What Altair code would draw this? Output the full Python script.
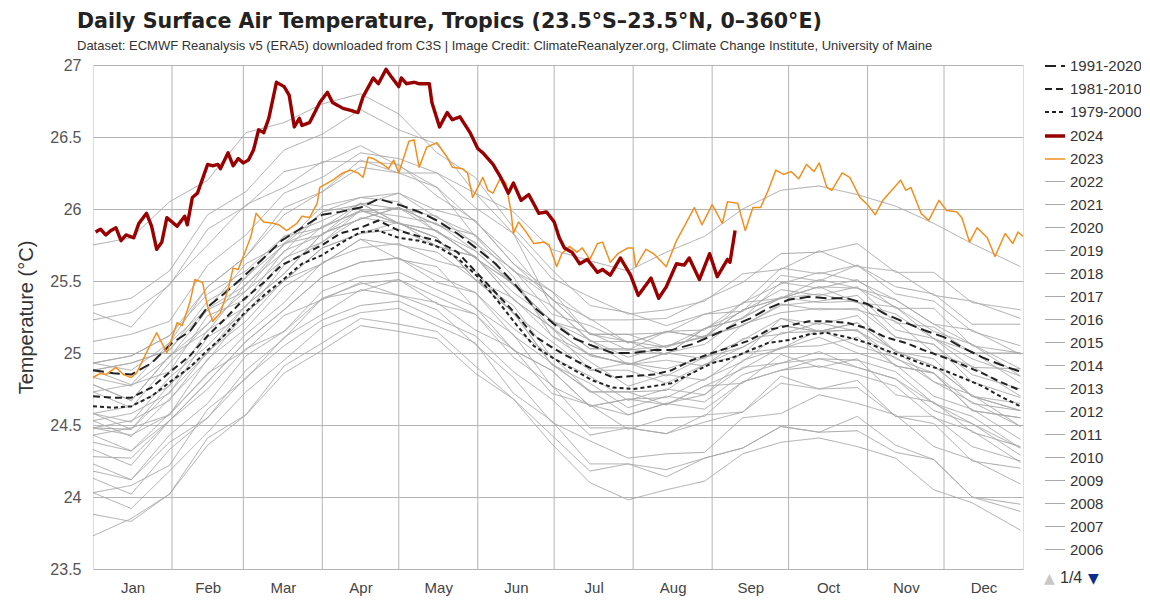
import altair as alt
import pandas as pd

TITLE = "Daily Surface Air Temperature, Tropics (23.5°S–23.5°N, 0–360°E)"
SUBTITLE = ("Dataset: ECMWF Reanalysis v5 (ERA5) downloaded from C3S | Image Credit: "
            "ClimateReanalyzer.org, Climate Change Institute, University of Maine")
MONTHS = ["Jan", "Feb", "Mar", "Apr", "May", "Jun", "Jul", "Aug", "Sep", "Oct", "Nov", "Dec"]
MONTH_STARTS = [31, 59, 90, 120, 151, 181, 212, 243, 273, 304, 334]
MONTH_MIDS = [15.5, 45, 74.5, 105, 135.5, 166, 196.5, 227.5, 258, 288.5, 319, 349.5]
Y_TICKS = [23.5, 24, 24.5, 25, 25.5, 26, 26.5, 27]

# climatologies
CLIM_DAYS = [0, 8, 15, 23, 31, 38, 45, 52, 59, 67, 74, 82, 90, 97, 105, 112, 120, 128, 135, 143,
             151, 158, 166, 173, 181, 189, 196, 204, 212, 220, 227, 235, 243, 250, 258, 265, 273,
             281, 288, 296, 304, 311, 319, 326, 334, 341, 349, 356, 364]
CLIM_1991_2020 = [24.88, 24.86, 24.85, 24.93, 25.07, 25.15, 25.32, 25.42, 25.53, 25.66, 25.78, 25.87,
                  25.96, 25.98, 26.01, 26.07, 26.03, 25.98, 25.92, 25.83, 25.72, 25.62, 25.47, 25.32,
                  25.20, 25.10, 25.05, 25.00, 25.00, 25.02, 25.02, 25.06, 25.12, 25.18, 25.24, 25.31,
                  25.37, 25.39, 25.38, 25.38, 25.34, 25.27, 25.21, 25.16, 25.11, 25.04, 24.97, 24.92, 24.87]
CLIM_1981_2010 = [24.70, 24.69, 24.69, 24.76, 24.88, 24.98, 25.12, 25.24, 25.37, 25.49, 25.61, 25.68,
                  25.75, 25.83, 25.87, 25.92, 25.85, 25.81, 25.78, 25.70, 25.55, 25.42, 25.27, 25.12,
                  25.03, 24.95, 24.89, 24.83, 24.84, 24.85, 24.88, 24.95, 25.00, 25.04, 25.09, 25.16,
                  25.19, 25.22, 25.22, 25.21, 25.17, 25.11, 25.07, 25.02, 24.97, 24.92, 24.86, 24.80, 24.74]
CLIM_1979_2000 = [24.63, 24.62, 24.63, 24.70, 24.81, 24.90, 25.02, 25.13, 25.27, 25.40, 25.50, 25.62,
                  25.68, 25.76, 25.84, 25.85, 25.80, 25.78, 25.74, 25.66, 25.53, 25.38, 25.20, 25.05,
                  24.96, 24.88, 24.81, 24.76, 24.75, 24.77, 24.79, 24.86, 24.93, 24.96, 25.02, 25.07,
                  25.09, 25.13, 25.14, 25.11, 25.07, 25.02, 24.97, 24.92, 24.88, 24.83, 24.77, 24.70, 24.63]

Y2024_DAYS = [1, 3, 5, 7, 9, 11, 13, 16, 18, 21, 23, 25, 27, 29, 33, 36, 37, 39, 41, 45, 47, 49, 50, 53,
              55, 57, 59, 61, 63, 65, 67, 69, 72, 75, 77, 79, 81, 82, 85, 89, 92, 94, 98, 104, 106, 110,
              112, 115, 117, 120, 121, 123, 126, 128, 132, 133, 136, 139, 141, 144, 148, 151, 153, 157,
              160, 163, 165, 168, 171, 175, 178, 181, 183, 185, 188, 191, 194, 198, 200, 203, 207, 211,
              214, 219, 222, 225, 229, 232, 234, 238, 242, 245, 249, 250, 252]
Y2024_TEMPS = [25.84, 25.86, 25.82, 25.85, 25.87, 25.78, 25.82, 25.80, 25.90, 25.97, 25.88, 25.72, 25.77,
               25.94, 25.88, 25.95, 25.89, 26.08, 26.11, 26.31, 26.30, 26.31, 26.28, 26.39, 26.30, 26.35,
               26.32, 26.34, 26.41, 26.55, 26.53, 26.63, 26.88, 26.85, 26.79, 26.57, 26.63, 26.58, 26.60,
               26.74, 26.81, 26.74, 26.70, 26.67, 26.78, 26.91, 26.87, 26.97, 26.92, 26.85, 26.91, 26.87,
               26.88, 26.87, 26.87, 26.74, 26.57, 26.67, 26.62, 26.64, 26.53, 26.42, 26.39, 26.31, 26.22,
               26.11, 26.18, 26.06, 26.10, 25.97, 25.98, 25.91, 25.80, 25.73, 25.70, 25.62, 25.65, 25.56,
               25.58, 25.54, 25.66, 25.54, 25.40, 25.52, 25.38, 25.46, 25.62, 25.61, 25.66, 25.51, 25.69,
               25.53, 25.65, 25.63, 25.85]

Y2023_DAYS = [0, 3, 5, 9, 12, 15, 17, 19, 22, 25, 27, 29, 33, 35, 38, 40, 43, 45, 47, 50, 53, 55, 57,
              59, 62, 64, 67, 71, 73, 76, 80, 82, 85, 88, 89, 94, 98, 101, 104, 106, 108, 110, 113, 116,
              118, 120, 124, 126, 128, 131, 135, 139, 141, 145, 147, 149, 151, 153, 155, 157, 160, 162,
              164, 165, 167, 170, 173, 177, 179, 182, 184, 187, 190, 192, 195, 198, 200, 203, 206, 210,
              212, 213, 217, 220, 225, 229, 233, 236, 239, 243, 247, 249, 253, 256, 259, 262, 265, 268,
              271, 274, 277, 280, 283, 285, 288, 290, 294, 297, 301, 304, 307, 310, 313, 317, 319, 321,
              325, 328, 332, 335, 339, 341, 344, 347, 351, 354, 358, 361, 363, 365]
Y2023_TEMPS = [24.83, 24.86, 24.85, 24.90, 24.85, 24.83, 24.86, 24.93, 25.04, 25.14, 25.07, 25.00, 25.21,
               25.19, 25.35, 25.51, 25.49, 25.32, 25.22, 25.28, 25.44, 25.59, 25.58, 25.67, 25.81, 25.97,
               25.91, 25.90, 25.89, 25.85, 25.90, 25.95, 25.94, 26.04, 26.15, 26.20, 26.25, 26.27, 26.25,
               26.22, 26.36, 26.35, 26.32, 26.28, 26.34, 26.25, 26.47, 26.48, 26.29, 26.43, 26.46, 26.36,
               26.29, 26.28, 26.25, 26.08, 26.15, 26.22, 26.13, 26.11, 26.22, 26.18, 25.99, 25.83, 25.91,
               25.84, 25.76, 25.77, 25.75, 25.60, 25.69, 25.74, 25.70, 25.73, 25.65, 25.76, 25.77, 25.63,
               25.69, 25.73, 25.73, 25.60, 25.72, 25.69, 25.60, 25.78, 25.91, 26.01, 25.89, 26.03, 25.90,
               26.05, 26.04, 25.85, 26.01, 26.01, 26.13, 26.27, 26.24, 26.26, 26.21, 26.31, 26.26, 26.32,
               26.15, 26.13, 26.25, 26.22, 26.08, 26.03, 25.96, 26.06, 26.12, 26.20, 26.13, 26.15, 25.97,
               25.92, 26.06, 25.99, 25.98, 25.94, 25.77, 25.87, 25.80, 25.67, 25.83, 25.76, 25.84, 25.81]

GRAY_DAYS = [0, 15, 30, 45, 60, 75, 90, 105, 120, 135, 150, 165, 180, 195, 210, 225, 240, 255, 270,
             285, 300, 315, 330, 345, 364]
G2022 = [24.88, 24.78, 25.07, 25.31, 25.62, 25.76, 26.02, 26.08, 26.05, 25.84, 25.71, 25.47, 25.22, 25.03, 25.02, 25.05, 25.11, 25.19, 25.33, 25.36, 25.40, 25.16, 25.10, 24.90, 24.89]
G2021 = [24.83, 24.77, 24.97, 25.30, 25.43, 25.76, 25.82, 26.04, 26.00, 25.95, 25.76, 25.58, 25.27, 25.19, 25.07, 25.15, 25.11, 25.35, 25.38, 25.46, 25.35, 25.27, 25.10, 24.96, 24.84]
G2020 = [25.28, 25.18, 25.48, 25.75, 26.03, 26.15, 26.33, 26.33, 26.31, 26.09, 25.92, 25.62, 25.38, 25.13, 25.08, 25.04, 25.12, 25.19, 25.34, 25.30, 25.31, 25.11, 25.06, 24.85, 24.75]
G2019 = [25.08, 25.13, 25.22, 25.61, 25.82, 26.11, 26.22, 26.39, 26.35, 26.25, 26.01, 25.83, 25.52, 25.39, 25.27, 25.30, 25.36, 25.55, 25.58, 25.71, 25.60, 25.57, 25.40, 25.36, 25.24]
G2018 = [24.73, 24.62, 24.93, 25.20, 25.53, 25.75, 25.98, 26.03, 26.11, 25.94, 25.82, 25.57, 25.38, 25.13, 25.13, 25.14, 25.27, 25.34, 25.59, 25.55, 25.61, 25.41, 25.36, 25.15, 25.05]
G2017 = [24.93, 24.88, 25.07, 25.46, 25.67, 26.01, 26.12, 26.34, 26.25, 26.15, 25.91, 25.68, 25.37, 25.24, 25.07, 25.15, 25.11, 25.30, 25.38, 25.41, 25.35, 25.32, 25.10, 25.01, 24.79]
G2016 = [25.75, 25.80, 26.05, 26.20, 26.53, 26.60, 26.73, 26.80, 26.66, 26.39, 26.22, 25.87, 25.58, 25.33, 25.28, 25.19, 25.27, 25.29, 25.44, 25.40, 25.46, 25.21, 25.18, 25.00, 25.00]
G2015 = [24.93, 24.98, 25.12, 25.46, 25.67, 25.96, 26.12, 26.29, 26.25, 26.25, 26.11, 25.98, 25.72, 25.64, 25.57, 25.70, 25.81, 26.00, 26.13, 26.16, 26.10, 26.02, 25.90, 25.76, 25.60]
G2014 = [24.78, 24.67, 24.98, 25.15, 25.48, 25.70, 25.98, 26.08, 26.11, 25.99, 25.92, 25.62, 25.43, 25.13, 25.13, 25.04, 25.17, 25.29, 25.54, 25.50, 25.61, 25.46, 25.41, 25.20, 25.20]
G2013 = [24.73, 24.78, 24.87, 25.26, 25.37, 25.71, 25.82, 25.99, 25.95, 25.90, 25.71, 25.48, 25.17, 24.99, 24.92, 25.00, 24.96, 25.20, 25.28, 25.31, 25.30, 25.22, 25.00, 24.91, 24.70]
G2012 = [24.58, 24.47, 24.78, 25.00, 25.33, 25.55, 25.83, 25.93, 26.01, 25.89, 25.77, 25.47, 25.33, 25.08, 25.08, 24.99, 25.17, 25.24, 25.39, 25.35, 25.36, 25.11, 25.06, 24.80, 24.69]
G2011 = [24.53, 24.42, 24.68, 24.95, 25.28, 25.50, 25.73, 25.83, 25.86, 25.74, 25.67, 25.37, 25.18, 24.98, 24.93, 24.89, 24.97, 25.04, 25.19, 25.15, 25.16, 24.91, 24.86, 24.60, 24.55]
G2010 = [25.23, 25.28, 25.47, 25.86, 26.02, 26.26, 26.32, 26.44, 26.30, 26.15, 25.81, 25.53, 25.12, 24.94, 24.77, 24.85, 24.81, 25.00, 25.03, 25.11, 25.00, 24.92, 24.70, 24.61, 24.40]
G2009 = [24.58, 24.52, 24.83, 25.05, 25.33, 25.55, 25.83, 25.93, 26.01, 25.89, 25.82, 25.57, 25.43, 25.23, 25.23, 25.24, 25.37, 25.49, 25.69, 25.70, 25.76, 25.56, 25.56, 25.35, 25.30]
G2008 = [24.43, 24.32, 24.58, 24.85, 25.13, 25.35, 25.63, 25.73, 25.76, 25.64, 25.57, 25.27, 25.08, 24.88, 24.88, 24.79, 24.92, 25.04, 25.19, 25.15, 25.16, 24.96, 24.86, 24.65, 24.60]
G2007 = [24.88, 24.93, 25.02, 25.31, 25.47, 25.76, 25.87, 25.99, 25.90, 25.80, 25.51, 25.33, 24.97, 24.84, 24.67, 24.75, 24.71, 24.90, 24.93, 25.01, 24.90, 24.82, 24.60, 24.51, 24.29]
G2006 = [24.48, 24.47, 24.73, 25.00, 25.28, 25.50, 25.73, 25.83, 25.91, 25.74, 25.67, 25.42, 25.23, 25.03, 25.03, 24.99, 25.17, 25.24, 25.49, 25.45, 25.51, 25.31, 25.31, 25.05, 25.00]
G2005 = [24.78, 24.67, 24.98, 25.20, 25.43, 25.65, 25.88, 25.98, 26.01, 25.84, 25.67, 25.37, 25.18, 24.88, 24.93, 24.84, 24.97, 25.09, 25.24, 25.15, 25.21, 25.01, 24.91, 24.70, 24.60]
G2002 = [24.53, 24.58, 24.72, 25.11, 25.27, 25.61, 25.77, 25.94, 25.90, 25.85, 25.66, 25.48, 25.22, 25.09, 24.97, 25.05, 25.11, 25.30, 25.38, 25.51, 25.45, 25.32, 25.15, 25.06, 24.84]
G1999 = [24.33, 24.22, 24.53, 24.80, 25.08, 25.30, 25.53, 25.63, 25.66, 25.54, 25.42, 25.17, 24.98, 24.73, 24.73, 24.64, 24.77, 24.79, 24.99, 24.90, 24.96, 24.71, 24.66, 24.45, 24.35]
G1998 = [25.33, 25.38, 25.57, 25.96, 26.12, 26.41, 26.52, 26.69, 26.55, 26.45, 26.11, 25.83, 25.32, 25.09, 24.92, 24.95, 24.91, 25.10, 25.13, 25.21, 25.15, 25.02, 24.80, 24.71, 24.49]
G1992 = [24.93, 24.98, 25.12, 25.41, 25.57, 25.81, 25.92, 26.04, 25.90, 25.80, 25.51, 25.28, 24.92, 24.79, 24.62, 24.70, 24.66, 24.85, 24.93, 24.96, 24.90, 24.82, 24.65, 24.51, 24.34]
G1989 = [24.18, 24.12, 24.43, 24.65, 24.98, 25.15, 25.43, 25.53, 25.56, 25.44, 25.32, 25.02, 24.88, 24.63, 24.68, 24.64, 24.77, 24.89, 25.04, 25.05, 25.11, 24.91, 24.86, 24.60, 24.55]
G1987 = [24.58, 24.63, 24.77, 25.16, 25.32, 25.66, 25.77, 25.99, 25.90, 25.85, 25.66, 25.48, 25.22, 25.14, 25.02, 25.15, 25.16, 25.35, 25.48, 25.56, 25.50, 25.37, 25.20, 25.06, 24.89]
G1983 = [24.88, 24.93, 25.02, 25.36, 25.52, 25.81, 25.87, 26.04, 25.90, 25.80, 25.51, 25.28, 24.92, 24.74, 24.57, 24.65, 24.61, 24.80, 24.88, 24.91, 24.85, 24.77, 24.55, 24.46, 24.24]
G1982 = [24.43, 24.48, 24.57, 24.96, 25.17, 25.46, 25.62, 25.79, 25.75, 25.70, 25.51, 25.38, 25.12, 24.99, 24.92, 25.00, 25.06, 25.25, 25.38, 25.46, 25.45, 25.37, 25.20, 25.16, 24.99]
G1976 = [24.03, 24.08, 24.22, 24.61, 24.82, 25.11, 25.27, 25.44, 25.40, 25.35, 25.16, 25.03, 24.72, 24.64, 24.57, 24.65, 24.71, 24.95, 25.03, 25.16, 25.05, 24.97, 24.80, 24.66, 24.49]
G1972 = [24.13, 24.02, 24.33, 24.55, 24.88, 25.10, 25.38, 25.48, 25.51, 25.39, 25.27, 25.02, 24.88, 24.63, 24.68, 24.69, 24.82, 24.94, 25.14, 25.15, 25.21, 25.01, 24.91, 24.70, 24.60]
G1969 = [24.48, 24.53, 24.67, 25.01, 25.22, 25.51, 25.62, 25.79, 25.65, 25.60, 25.31, 25.13, 24.77, 24.64, 24.47, 24.55, 24.56, 24.80, 24.88, 24.96, 24.95, 24.87, 24.65, 24.56, 24.34]
G1965 = [24.28, 24.27, 24.53, 24.80, 25.08, 25.30, 25.53, 25.63, 25.66, 25.49, 25.42, 25.12, 24.93, 24.73, 24.73, 24.74, 24.92, 24.99, 25.24, 25.20, 25.26, 25.01, 24.96, 24.70, 24.65]
G1961 = [24.38, 24.32, 24.53, 24.75, 25.03, 25.15, 25.38, 25.43, 25.51, 25.34, 25.27, 24.97, 24.78, 24.48, 24.48, 24.44, 24.57, 24.59, 24.79, 24.75, 24.76, 24.56, 24.56, 24.35, 24.25]
G1958 = [24.48, 24.43, 24.57, 24.86, 25.02, 25.26, 25.37, 25.49, 25.40, 25.30, 25.06, 24.83, 24.52, 24.39, 24.27, 24.30, 24.31, 24.55, 24.58, 24.71, 24.65, 24.57, 24.35, 24.26, 24.09]
G1955 = [24.03, 23.92, 24.18, 24.45, 24.73, 24.95, 25.18, 25.28, 25.31, 25.19, 25.07, 24.72, 24.53, 24.23, 24.23, 24.19, 24.27, 24.34, 24.49, 24.45, 24.46, 24.31, 24.26, 24.00, 23.95]
G1950 = [23.88, 23.83, 24.02, 24.36, 24.57, 24.86, 25.02, 25.19, 25.15, 25.10, 24.86, 24.68, 24.37, 24.10, 23.98, 24.05, 24.11, 24.30, 24.38, 24.41, 24.35, 24.27, 24.05, 23.96, 23.77]
G1949 = [23.73, 23.85, 24.02, 24.41, 24.57, 24.91, 25.07, 25.24, 25.20, 25.15, 24.91, 24.68, 24.43, 24.18, 24.23, 24.14, 24.27, 24.34, 24.49, 24.45, 24.56, 24.36, 24.26, 24.00, 23.90]
G1945 = [24.23, 24.12, 24.38, 24.55, 24.83, 25.05, 25.23, 25.33, 25.36, 25.24, 25.12, 24.87, 24.68, 24.43, 24.48, 24.44, 24.52, 24.59, 24.84, 24.75, 24.81, 24.56, 24.51, 24.25, 24.20]

GRAY_SERIES = [("2022", G2022), ("2021", G2021), ("2020", G2020), ("2019", G2019), ("2018", G2018),
               ("2017", G2017), ("2016", G2016), ("2015", G2015), ("2014", G2014), ("2013", G2013),
               ("2012", G2012), ("2011", G2011), ("2010", G2010), ("2009", G2009), ("2008", G2008),
               ("2007", G2007), ("2006", G2006), ("2005", G2005), ("2002", G2002), ("1999", G1999),
               ("1998", G1998), ("1992", G1992), ("1989", G1989), ("1987", G1987), ("1983", G1983),
               ("1982", G1982), ("1976", G1976), ("1972", G1972), ("1969", G1969), ("1965", G1965),
               ("1961", G1961), ("1958", G1958), ("1955", G1955), ("1950", G1950), ("1949", G1949),
               ("1945", G1945)]

FONT = "Liberation Sans"

# ---------- tables ----------
gray_rows = []
for name, vals in GRAY_SERIES:
    for d, v in zip(GRAY_DAYS, vals):
        gray_rows.append({"series": name, "day": d, "temp": v})
gray_df = pd.DataFrame(gray_rows)

clim_rows = []
for name, vals in [("1991-2020", CLIM_1991_2020), ("1981-2010", CLIM_1981_2010), ("1979-2000", CLIM_1979_2000)]:
    for d, v in zip(CLIM_DAYS, vals):
        clim_rows.append({"series": name, "day": d, "temp": v})
clim_df = pd.DataFrame(clim_rows)

df2023 = pd.DataFrame({"series": "2023", "day": Y2023_DAYS, "temp": Y2023_TEMPS})
df2024 = pd.DataFrame({"series": "2024", "day": Y2024_DAYS, "temp": Y2024_TEMPS})
grid_df = pd.DataFrame({"day": MONTH_STARTS})

SERIES_ORDER = ["1991-2020", "1981-2010", "1979-2000", "2024", "2023"] + [n for n, _ in GRAY_SERIES]
n_gray = len(GRAY_SERIES)
COLORS = ["#222222", "#222222", "#222222", "#990000", "#f18f1f"] + ["#a9a9a9"] * n_gray
DASHES = [[11, 5], [7, 4], [4, 3], [1, 0], [1, 0]] + [[1, 0]] * n_gray
WIDTHS = [2, 2, 2, 3.4, 1.5] + [1] * n_gray

legend = alt.Legend(
    title=None, orient="none", legendX=950, legendY=-10,
    values=SERIES_ORDER[:22], symbolType="stroke", symbolSize=400,
    labelFontSize=15, labelColor="#333333", labelFont=FONT, labelOffset=3,
    rowPadding=4, symbolStrokeWidth=2,
)

x_enc = alt.X("day:Q", scale=alt.Scale(domain=[0, 365], nice=False, zero=False),
              axis=alt.Axis(values=MONTH_MIDS, grid=False, ticks=False, domain=False, title=None,
                            labelExpr="%s[floor(datum.value / 30.5)]" % str(MONTHS),
                            labelFontSize=15, labelColor="#444444", labelFont=FONT, labelPadding=11))
y_enc = alt.Y("temp:Q", scale=alt.Scale(domain=[23.5, 27], nice=False, zero=False),
              axis=alt.Axis(values=Y_TICKS, format="~g", ticks=False, domain=False,
                            gridColor="#b4b4b4", gridWidth=1,
                            title="Temperature (°C)", titleFontSize=20, titleFontWeight="normal",
                            titleColor="#333333", titleFont=FONT, titlePadding=13,
                            labelFontSize=16, labelColor="#555555", labelFont=FONT, labelPadding=12))

color_enc = alt.Color("series:N", scale=alt.Scale(domain=SERIES_ORDER, range=COLORS), legend=legend)
dash_enc = alt.StrokeDash("series:N", scale=alt.Scale(domain=SERIES_ORDER, range=DASHES), legend=legend)
width_enc = alt.StrokeWidth("series:N", scale=alt.Scale(type="ordinal", domain=SERIES_ORDER, range=WIDTHS),
                            legend=legend)


def line_layer(data):
    return alt.Chart(data).mark_line(strokeJoin="round").encode(
        x=x_enc, y=y_enc, color=color_enc, strokeDash=dash_enc, strokeWidth=width_enc
    )


grid_layer = alt.Chart(grid_df).mark_rule(color="#b4b4b4", strokeWidth=1).encode(x=alt.X("day:Q"))

one = pd.DataFrame({"k": [0]})
up_arrow = alt.Chart(one).mark_text(text="▲", font="DejaVu Sans", fontSize=14, color="#c8c8c8",
                                    align="left", baseline="middle").encode(x=alt.value(951), y=alt.value(514))
page_txt = alt.Chart(one).mark_text(text="1/4", font=FONT, fontSize=16, color="#333333",
                                    align="left", baseline="middle").encode(x=alt.value(967), y=alt.value(513))
down_arrow = alt.Chart(one).mark_text(text="▼", font="DejaVu Sans", fontSize=14, color="#0b2f8a",
                                      align="left", baseline="middle").encode(x=alt.value(995), y=alt.value(514))

chart = alt.layer(
    grid_layer,
    line_layer(gray_df),
    line_layer(clim_df),
    line_layer(df2023),
    line_layer(df2024),
    up_arrow, page_txt, down_arrow,
).properties(
    width=930, height=504,
    autosize=alt.AutoSizeParams(type="none"),
    padding={"left": 85, "top": 57, "right": 118, "bottom": 30},
    title=alt.TitleParams(text=TITLE, subtitle=SUBTITLE, anchor="start", frame="group", dx=-16,
                          offset=2, font="DejaVu Sans", fontSize=20.6, fontWeight="bold", color="#222222",
                          subtitleFont=FONT, subtitleFontSize=13, subtitleColor="#333333",
                          subtitlePadding=7),
).configure_view(stroke="#b4b4b4", strokeWidth=1).configure(background="white")

chart.save("out.html", embed_options={"renderer": "svg", "actions": False})
